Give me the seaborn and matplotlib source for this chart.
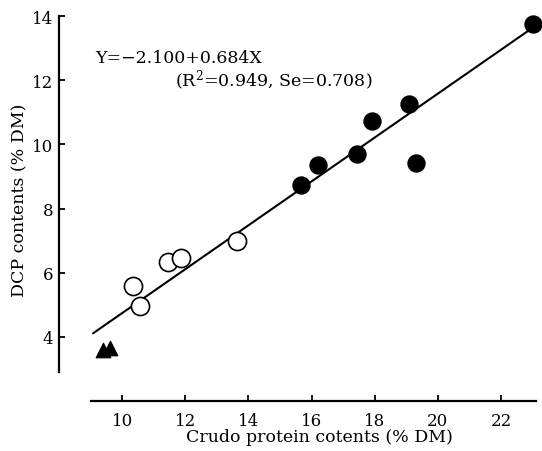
import numpy as np
import pandas as pd
import matplotlib
matplotlib.use("Agg")
import matplotlib.pyplot as plt
import seaborn as sns

# --- data ---
filled_x = [15.66, 16.2, 17.44, 17.91, 19.08, 19.3, 23.0]
filled_y = [8.72, 9.37, 9.69, 10.72, 11.25, 9.41, 13.75]
open_x = [10.35, 10.57, 11.46, 11.87, 13.64]
open_y = [5.59, 4.97, 6.34, 6.47, 7.0]
tri_x = [9.4, 9.62]
tri_y = [3.58, 3.64]

intercept = -2.100
slope = 0.684
line_x = [9.08, 23.0]

x_ticks = [10, 12, 14, 16, 18, 20, 22]
y_ticks = [4, 6, 8, 10, 12, 14]

sns.set_style("ticks", {"axes.edgecolor": "black", "text.color": "black",
                        "axes.labelcolor": "black", "xtick.color": "black",
                        "ytick.color": "black"})
plt.rcParams['font.family'] = ['DejaVu Serif']
plt.rcParams['mathtext.fontset'] = 'dejavuserif'

fig = plt.figure(figsize=(5.42, 4.52), dpi=100)
ax = fig.add_axes([59 / 542, 50 / 452, 483 / 542, 0.873])

# regression line
lx = np.array(line_x)
sns.lineplot(x=lx, y=intercept + slope * lx, color="black", linewidth=1.5, ax=ax)

sns.scatterplot(x=filled_x, y=filled_y, marker="o", s=150, color="black",
                edgecolor="black", ax=ax, clip_on=False, zorder=3)
sns.scatterplot(x=open_x, y=open_y, marker="o", s=170, facecolor="white",
                edgecolor="black", linewidth=1.2, ax=ax, zorder=3)
sns.scatterplot(x=tri_x, y=tri_y, marker="^", s=110, color="black",
                edgecolor="black", ax=ax, zorder=3)

ax.set_xlim(8, 23.3)
ax.set_ylim(2, 14.3)
ax.set_xticks(x_ticks)
ax.set_yticks(y_ticks)
ax.spines['left'].set_bounds(2.9, 14)
ax.spines['bottom'].set_bounds(9, 23.1)
sns.despine(ax=ax)
for s in ['left', 'bottom']:
    ax.spines[s].set_linewidth(1.6)
ax.tick_params(direction='in', length=4, width=1.3, labelsize=12)
ax.tick_params(axis='y', pad=4)
ax.tick_params(axis='x', pad=8)

ax.text(9.15, 12.7, "Y=−2.100+0.684X", fontsize=12.5, va='center')
ax.text(11.68, 12.0, "(R$^2$=0.949, Se=0.708)", fontsize=12.5, va='center')

ax.set_xlabel("Crudo protein cotents (% DM)", fontsize=12.5, va='center')
ax.set_ylabel("DCP contents (% DM)", fontsize=12.5, va='center')
ax.xaxis.set_label_coords(0.54, -0.089)
ax.yaxis.set_label_coords(-0.08, 0.512)

fig.savefig("out.png", dpi=100)
